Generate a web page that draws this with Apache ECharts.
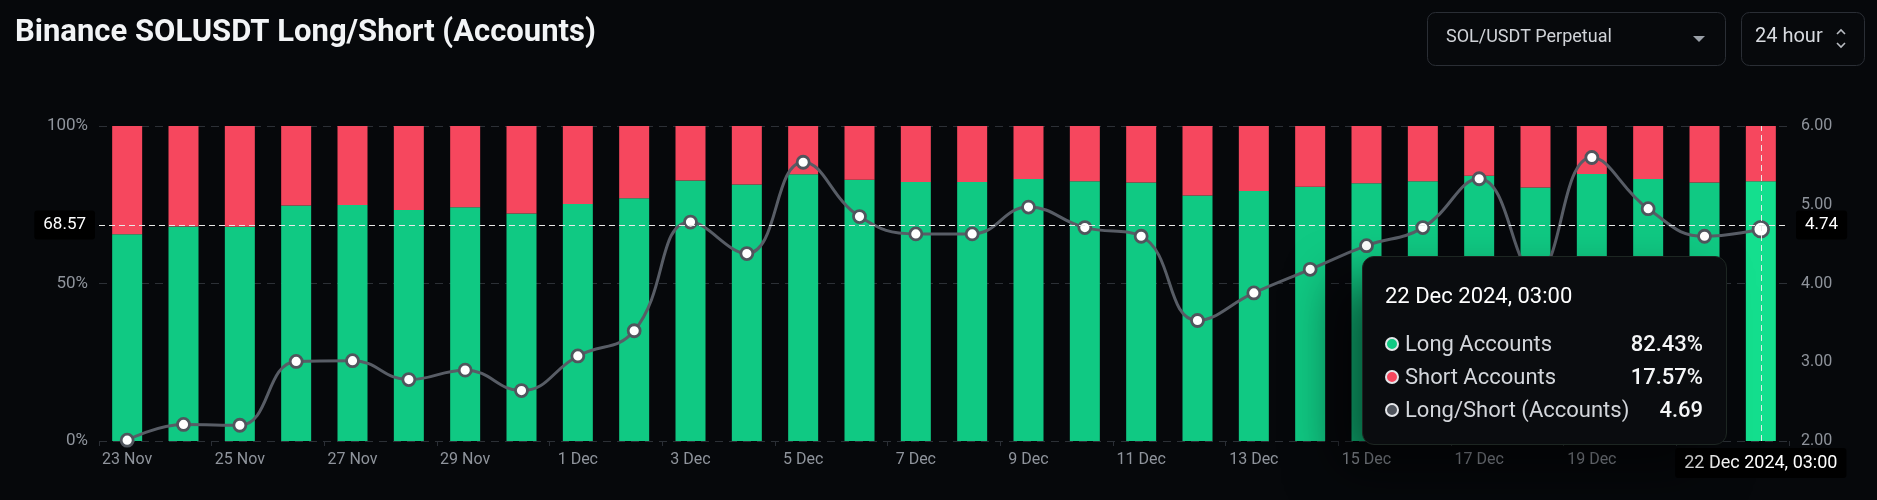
<!DOCTYPE html>
<html><head><meta charset="utf-8">
<script src="https://cdn.jsdelivr.net/npm/echarts@6/dist/echarts.min.js"></script>
<style>html,body{margin:0;padding:0;background:#06080b;}#c{width:1877px;height:500px;}</style>
</head><body><div id="c"></div>
<script>
const timestamps = [
  '23 Nov 2024, 03:00','24 Nov 2024, 03:00','25 Nov 2024, 03:00','26 Nov 2024, 03:00','27 Nov 2024, 03:00',
  '28 Nov 2024, 03:00','29 Nov 2024, 03:00','30 Nov 2024, 03:00','1 Dec 2024, 03:00','2 Dec 2024, 03:00',
  '3 Dec 2024, 03:00','4 Dec 2024, 03:00','5 Dec 2024, 03:00','6 Dec 2024, 03:00','7 Dec 2024, 03:00',
  '8 Dec 2024, 03:00','9 Dec 2024, 03:00','10 Dec 2024, 03:00','11 Dec 2024, 03:00','12 Dec 2024, 03:00',
  '13 Dec 2024, 03:00','14 Dec 2024, 03:00','15 Dec 2024, 03:00','16 Dec 2024, 03:00','17 Dec 2024, 03:00',
  '18 Dec 2024, 03:00','19 Dec 2024, 03:00','20 Dec 2024, 03:00','21 Dec 2024, 03:00','22 Dec 2024, 03:00'
];
const longPct = [65.6, 68.1, 68.0, 74.8, 74.9, 73.3, 74.2, 72.2, 75.2, 77.1,
                 82.7, 81.4, 84.7, 82.9, 82.2, 82.2, 83.2, 82.5, 82.1, 77.9,
                 79.4, 80.7, 81.8, 82.5, 84.2, 80.5, 84.8, 83.2, 82.1, 82.43];
const shortPct = [34.4, 31.9, 32.0, 25.2, 25.1, 26.7, 25.8, 27.8, 24.8, 22.9,
                  17.3, 18.6, 15.3, 17.1, 17.8, 17.8, 16.8, 17.5, 17.9, 22.1,
                  20.6, 19.3, 18.2, 17.5, 15.8, 19.5, 15.2, 16.8, 17.9, 17.57];
const ratio = [2.01, 2.21, 2.20, 3.01, 3.02, 2.78, 2.90, 2.64, 3.08, 3.40,
               4.78, 4.38, 5.54, 4.85, 4.63, 4.63, 4.97, 4.71, 4.60, 3.53,
               3.88, 4.18, 4.48, 4.71, 5.33, 4.13, 5.60, 4.95, 4.60, 4.69];
const leftTicks = [0, 50, 100];
const rightTicks = [2, 3, 4, 5, 6];
const hoverIndex = 29;
const pointerLongValue = 68.57;

const GREEN = '#10c983', GREEN_HI = '#14df8e', RED = '#f6475e', LINE = '#50555d';
const AXIS_TXT = '#8f949c';
const FONT = 'Roboto, "Noto Sans", sans-serif';

const chart = echarts.init(document.getElementById('c'), null, {renderer: 'canvas'});

function row(color, label, value) {
  return '<div style="display:flex;align-items:center;height:33px;">' +
    '<span style="display:inline-block;box-sizing:border-box;width:14px;height:14px;border-radius:50%;background:' + color + ';border:2px solid #e4e6e9;margin-right:6px;"></span>' +
    '<span style="flex:1;color:#d3d6db;">' + label + '</span>' +
    '<span style="color:#f5f6f7;font-weight:500;">' + value + '</span></div>';
}

chart.setOption({
  backgroundColor: '#06080b',
  animation: false,
  textStyle: {fontFamily: FONT},
  title: {
    text: 'Binance SOLUSDT Long/Short (Accounts)',
    left: 10, top: 13,
    textStyle: {color: '#f2f4f6', fontSize: 31, fontWeight: 'bold', fontFamily: FONT}
  },
  graphic: [
    {type: 'rect', left: 1427, top: 12, shape: {width: 298, height: 53, r: 8},
     style: {fill: '#07090c', stroke: '#2a2e35', lineWidth: 1}},
    {type: 'text', left: 1446, top: 28, style: {text: 'SOL/USDT Perpetual', fill: '#d0d3d8', font: '18px ' + FONT}},
    {type: 'polygon', shape: {points: [[1693, 36], [1705, 36], [1699, 42]]}, style: {fill: '#9aa0a8'}},
    {type: 'rect', left: 1741, top: 12, shape: {width: 123, height: 53, r: 8},
     style: {fill: '#07090c', stroke: '#2a2e35', lineWidth: 1}},
    {type: 'text', left: 1755, top: 27, style: {text: '24 hour', fill: '#d8dbe0', font: '20px ' + FONT}},
    {type: 'polyline', shape: {points: [[1837, 34], [1841, 30], [1845, 34]]}, style: {stroke: '#b8bcc2', lineWidth: 1.6, fill: null}},
    {type: 'polyline', shape: {points: [[1837, 43], [1841, 47], [1845, 43]]}, style: {stroke: '#b8bcc2', lineWidth: 1.6, fill: null}}
  ],
  grid: {left: 99, right: 88, top: 126, bottom: 59},
  tooltip: {
    trigger: 'axis',
    alwaysShowContent: true,
    triggerOn: 'mousemove',
    position: function () { return [1362, 256]; },
    backgroundColor: '#0a0c0f',
    borderColor: '#1d2622',
    borderWidth: 1,
    padding: [25, 23, 18, 22],
    extraCssText: 'border-radius:12px;box-shadow:-26px 26px 50px rgba(0,0,0,0.55);',
    axisPointer: {
      type: 'cross',
      lineStyle: {color: '#e8e8e8', type: [6, 4], width: 1},
      crossStyle: {color: '#e8e8e8', type: [6, 4], width: 1},
      label: {backgroundColor: '#000', color: '#fff', fontSize: 17, fontFamily: FONT, padding: [6, 9]}
    },
    formatter: function (params) {
      const i = params[0].dataIndex;
      return '<div style="width:318px;font-family:' + FONT.replace(/"/g, "'") + ';font-size:22px;">' +
        '<div style="line-height:28px;color:#fff;margin-bottom:17px;">' + timestamps[i] + '</div>' +
        row(GREEN, 'Long Accounts', longPct[i].toFixed(2) + '%') +
        row(RED, 'Short Accounts', shortPct[i].toFixed(2) + '%') +
        row(LINE, 'Long/Short (Accounts)', ratio[i].toFixed(2)) +
        '</div>';
    }
  },
  xAxis: {
    type: 'category',
    data: timestamps,
    boundaryGap: true,
    axisLine: {show: false},
    axisTick: {show: true, interval: 1, length: 5, lineStyle: {color: '#2a2e35'}},
    axisLabel: {
      interval: 1, color: AXIS_TXT, fontSize: 16, margin: 11, fontFamily: FONT,
      formatter: v => v.split(' 2024')[0]
    },
    splitLine: {show: false},
    axisPointer: {label: {margin: 7, fontSize: 18}}
  },
  yAxis: [
    {
      type: 'value', min: leftTicks[0], max: leftTicks[leftTicks.length - 1], interval: 50,
      axisLine: {show: false}, axisTick: {show: false},
      axisLabel: {color: AXIS_TXT, fontSize: 17, margin: 11, formatter: '{value}%', fontFamily: FONT},
      splitLine: {show: true, lineStyle: {color: '#2c3036', type: [8, 6], width: 1}},
      axisPointer: {label: {formatter: p => p.value.toFixed(2), margin: 4}}
    },
    {
      type: 'value', min: rightTicks[0], max: rightTicks[rightTicks.length - 1], interval: 1,
      position: 'right',
      axisLine: {show: false}, axisTick: {show: false},
      axisLabel: {color: AXIS_TXT, fontSize: 16, margin: 12, formatter: v => v.toFixed(2), fontFamily: FONT},
      splitLine: {show: false},
      axisPointer: {label: {formatter: p => p.value.toFixed(2), margin: 7}}
    }
  ],
  series: [
    {
      name: 'Long Accounts', type: 'bar', stack: 'acc', yAxisIndex: 0, barWidth: 30,
      data: longPct,
      itemStyle: {color: GREEN},
      emphasis: {itemStyle: {color: GREEN_HI}}
    },
    {
      name: 'Short Accounts', type: 'bar', stack: 'acc', yAxisIndex: 0, barWidth: 30,
      data: shortPct,
      itemStyle: {color: RED},
      emphasis: {itemStyle: {color: RED}}
    },
    {
      name: 'Long/Short (Accounts)', type: 'line', yAxisIndex: 1, z: 5,
      data: ratio, smooth: 0.45,
      symbol: 'circle', symbolSize: 12,
      lineStyle: {color: LINE, width: 3},
      itemStyle: {color: '#ffffff', borderColor: LINE, borderWidth: 2.8},
      emphasis: {scale: 1.3, lineStyle: {width: 3}}
    }
  ]
});

const px = chart.convertToPixel({xAxisIndex: 0}, timestamps[hoverIndex]);
const py = chart.convertToPixel({yAxisIndex: 0}, pointerLongValue);
chart.dispatchAction({type: 'showTip', x: px, y: py});
</script>
</body></html>
